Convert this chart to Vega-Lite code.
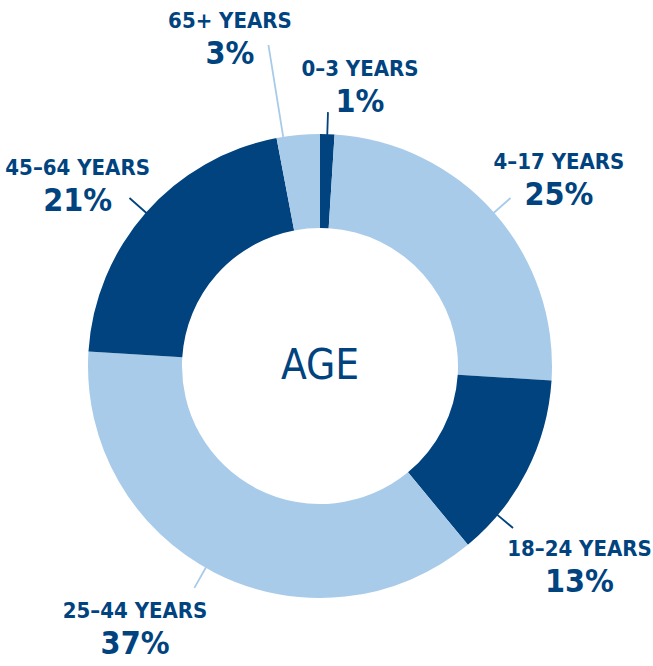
{
  "$schema": "https://vega.github.io/schema/vega-lite/v6.json",
  "width": 640,
  "height": 600,
  "autosize": "none",
  "padding": {"left": 0, "top": 66, "right": 13, "bottom": 0},
  "background": "white",
  "view": {"stroke": null},
  "config": {
    "text": {"font": "Noto Sans ExtraCondensed, Noto Sans Condensed, DejaVu Sans Condensed, sans-serif", "fontWeight": "bold", "color": "#00437f", "align": "center", "baseline": "middle"}
  },
  "datasets": {
    "age": [
      {"k": 1, "group": "0–3 YEARS", "value": 1, "label": "1%"},
      {"k": 2, "group": "4–17 YEARS", "value": 25, "label": "25%"},
      {"k": 3, "group": "18–24 YEARS", "value": 13, "label": "13%"},
      {"k": 4, "group": "25–44 YEARS", "value": 37, "label": "37%"},
      {"k": 5, "group": "45–64 YEARS", "value": 21, "label": "21%"},
      {"k": 6, "group": "65+ YEARS", "value": 3, "label": "3%"}
    ],
    "center": [{"t": "AGE"}]
  },
  "data": {"name": "age"},
  "encoding": {
    "theta": {"field": "value", "type": "quantitative", "stack": true},
    "order": {"field": "k", "type": "quantitative"},
    "detail": {"field": "group", "type": "nominal"}
  },
  "layer": [
    {
      "mark": {"type": "arc", "innerRadius": 138, "outerRadius": 232},
      "encoding": {
        "color": {"field": "group", "type": "nominal", "legend": null,
          "scale": {"domain": ["0–3 YEARS", "4–17 YEARS", "18–24 YEARS", "25–44 YEARS", "45–64 YEARS", "65+ YEARS"],
                    "range": ["#00437f", "#a8cbea", "#00437f", "#a8cbea", "#00437f", "#a8cbea"]}}
      }
    },
    {
      "mark": {"type": "arc", "filled": false, "strokeWidth": 1.8, "padAngle": 3, "innerRadius": 231, "outerRadius": 254},
      "encoding": {
        "color": {"field": "group", "type": "nominal", "legend": null},
        "strokeOpacity": {"condition": {"test": "datum.k == 1 || datum.k == 2 || datum.k == 5", "value": 1}, "value": 0}
      }
    },
    {
      "mark": {"type": "arc", "filled": false, "strokeWidth": 1.8, "padAngle": 3, "innerRadius": 231, "outerRadius": 255, "thetaOffset": 0.044, "theta2Offset": 0.044},
      "encoding": {
        "color": {"field": "group", "type": "nominal", "legend": null},
        "strokeOpacity": {"condition": {"test": "datum.k == 4", "value": 1}, "value": 0}
      }
    },
    {
      "mark": {"type": "arc", "filled": false, "strokeWidth": 1.8, "padAngle": 3, "innerRadius": 228, "outerRadius": 252, "thetaOffset": 0.227, "theta2Offset": 0.227},
      "encoding": {
        "color": {"field": "group", "type": "nominal", "legend": null},
        "strokeOpacity": {"condition": {"test": "datum.k == 3", "value": 1}, "value": 0}
      }
    },
    {
      "mark": {"type": "arc", "filled": false, "strokeWidth": 1.8, "padAngle": 3, "innerRadius": 232, "outerRadius": 325, "thetaOffset": -0.065, "theta2Offset": -0.065},
      "encoding": {
        "color": {"field": "group", "type": "nominal", "legend": null},
        "strokeOpacity": {"condition": {"test": "datum.k == 6", "value": 1}, "value": 0}
      }
    },
    {"mark": {"type": "text", "radius": 284, "thetaOffset": 0.110, "dy": -16, "fontSize": 22},
     "encoding": {"text": {"field": "group"}, "opacity": {"condition": {"test": "datum.k == 1", "value": 1}, "value": 0}}},
    {"mark": {"type": "text", "radius": 284, "thetaOffset": 0.110, "dy": 17, "fontSize": 32},
     "encoding": {"text": {"field": "label"}, "opacity": {"condition": {"test": "datum.k == 1", "value": 1}, "value": 0}}},
    {"mark": {"type": "text", "radius": 304, "thetaOffset": 0.056, "dy": -16, "fontSize": 22},
     "encoding": {"text": {"field": "group"}, "opacity": {"condition": {"test": "datum.k == 2", "value": 1}, "value": 0}}},
    {"mark": {"type": "text", "radius": 304, "thetaOffset": 0.056, "dy": 17, "fontSize": 32},
     "encoding": {"text": {"field": "label"}, "opacity": {"condition": {"test": "datum.k == 2", "value": 1}, "value": 0}}},
    {"mark": {"type": "text", "radius": 327, "thetaOffset": 0.183, "dy": -16, "fontSize": 22},
     "encoding": {"text": {"field": "group"}, "opacity": {"condition": {"test": "datum.k == 3", "value": 1}, "value": 0}}},
    {"mark": {"type": "text", "radius": 327, "thetaOffset": 0.183, "dy": 17, "fontSize": 32},
     "encoding": {"text": {"field": "label"}, "opacity": {"condition": {"test": "datum.k == 3", "value": 1}, "value": 0}}},
    {"mark": {"type": "text", "radius": 320, "thetaOffset": 0.145, "dy": -16, "fontSize": 22},
     "encoding": {"text": {"field": "group"}, "opacity": {"condition": {"test": "datum.k == 4", "value": 1}, "value": 0}}},
    {"mark": {"type": "text", "radius": 320, "thetaOffset": 0.145, "dy": 17, "fontSize": 32},
     "encoding": {"text": {"field": "label"}, "opacity": {"condition": {"test": "datum.k == 4", "value": 1}, "value": 0}}},
    {"mark": {"type": "text", "radius": 303, "thetaOffset": -0.079, "dy": -16, "fontSize": 22},
     "encoding": {"text": {"field": "group"}, "opacity": {"condition": {"test": "datum.k == 5", "value": 1}, "value": 0}}},
    {"mark": {"type": "text", "radius": 303, "thetaOffset": -0.079, "dy": 17, "fontSize": 32},
     "encoding": {"text": {"field": "label"}, "opacity": {"condition": {"test": "datum.k == 5", "value": 1}, "value": 0}}},
    {"mark": {"type": "text", "radius": 341, "thetaOffset": -0.173, "dy": -16, "fontSize": 22},
     "encoding": {"text": {"field": "group"}, "opacity": {"condition": {"test": "datum.k == 6", "value": 1}, "value": 0}}},
    {"mark": {"type": "text", "radius": 341, "thetaOffset": -0.173, "dy": 17, "fontSize": 32},
     "encoding": {"text": {"field": "label"}, "opacity": {"condition": {"test": "datum.k == 6", "value": 1}, "value": 0}}},
    {
      "data": {"name": "center"},
      "mark": {"type": "text", "fontSize": 42, "fontWeight": "normal", "radius": 0},
      "encoding": {"text": {"field": "t"}, "theta": {"value": 0}, "order": null, "detail": null}
    }
  ]
}
